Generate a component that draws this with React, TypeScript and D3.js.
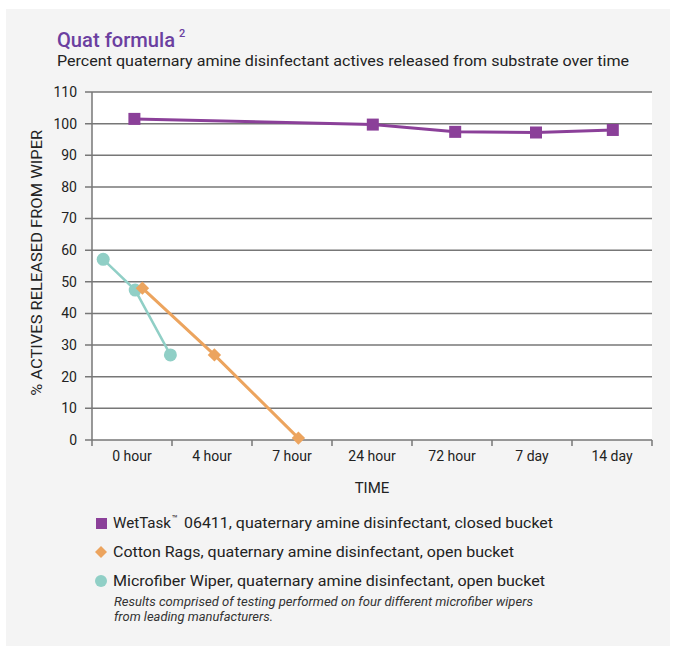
import React from "react";
import * as d3 from "d3";

const categories = ["0 hour", "4 hour", "7 hour", "24 hour", "72 hour", "7 day", "14 day"];
const yTicks = [0, 10, 20, 30, 40, 50, 60, 70, 80, 90, 100, 110];

// x positions are in category units (0 = left edge of "0 hour" slot)
const wetTaskX = [0.53, 3.51, 4.54, 5.55, 6.51];
const wetTaskY = [101.5, 99.7, 97.4, 97.2, 98.0];
const cottonX = [0.63, 1.53, 2.58];
const cottonY = [48.0, 26.9, 0.6];
const microX = [0.14, 0.54, 0.98];
const microY = [57.1, 47.4, 26.9];

const legendLabels = [
  "WetTask",
  "Cotton Rags, quaternary amine disinfectant, open bucket",
  "Microfiber Wiper, quaternary amine disinfectant, open bucket",
];
const legendTail = "06411, quaternary amine disinfectant, closed bucket";

const PURPLE = "#8b4099";
const ORANGE = "#eca45e";
const TEAL = "#90cfc6";
const TITLE = "#6b3fa0";
const GRID = "#777777";
const FONT = "Roboto, 'DejaVu Sans', sans-serif";

export default function App() {
  const W = 674, H = 649;
  const x = d3.scaleLinear().domain([0, 7]).range([92, 652]);
  const y = d3.scaleLinear().domain([0, 110]).range([440, 92]);
  const line = d3.line<[number, number]>().x(d => x(d[0])).y(d => y(d[1]));
  const zip = (a: number[], b: number[]) => a.map((v, i) => [v, b[i]] as [number, number]);
  const wet = zip(wetTaskX, wetTaskY);
  const cot = zip(cottonX, cottonY);
  const mic = zip(microX, microY);
  const diamond = d3.symbol(d3.symbolSquare, 90)();

  return (
    <svg width={W} height={H} style={{ position: "absolute", left: 0, top: 0, fontFamily: FONT }}>
      <rect x={0} y={0} width={W} height={H} fill="#ffffff" />
      <rect x={6} y={9} width={664} height={637} fill="#f4f4f4" />
      {/* title */}
      <text x={57} y={47} fontSize={21} fontWeight={500} fill={TITLE} textLength={118} lengthAdjust="spacingAndGlyphs">Quat formula</text>
      <text x={179} y={37} fontSize={11} fontWeight={500} fill={TITLE}>2</text>
      <text x={57} y={66} fontSize={15} fill="#222" textLength={572} lengthAdjust="spacingAndGlyphs">
        Percent quaternary amine disinfectant actives released from substrate over time
      </text>

      {/* plot area */}
      <rect x={x(0)} y={y(110)} width={x(7) - x(0)} height={y(0) - y(110)} fill="#ffffff" />
      {yTicks.map(t => (
        <g key={t}>
          <line x1={85} x2={x(7)} y1={y(t)} y2={y(t)} stroke={GRID} strokeWidth={1.5} />
          <text x={77} y={y(t)} dy="0.35em" textAnchor="end" fontSize={14} fill="#222">{t}</text>
        </g>
      ))}
      <line x1={x(0)} x2={x(0)} y1={y(110)} y2={y(0) + 6} stroke={GRID} strokeWidth={1.5} />
      {d3.range(1, 8).map(i => (
        <line key={i} x1={x(i)} x2={x(i)} y1={y(0)} y2={y(0) + 6} stroke={GRID} strokeWidth={1.5} />
      ))}
      {categories.map((c, i) => (
        <text key={c} x={x(i + 0.5)} y={461} textAnchor="middle" fontSize={14} fill="#222">{c}</text>
      ))}
      <text x={x(3.5)} y={493} textAnchor="middle" fontSize={15} fill="#222">TIME</text>
      <text transform={`translate(42,${y(56)}) rotate(-90)`} textAnchor="middle" fontSize={15} fill="#222" textLength={266} lengthAdjust="spacingAndGlyphs">
        %   ACTIVES RELEASED FROM WIPER
      </text>

      {/* series */}
      <path d={line(wet) || ""} fill="none" stroke={PURPLE} strokeWidth={3} />
      {wet.map((p, i) => (
        <rect key={i} x={x(p[0]) - 6} y={y(p[1]) - 6} width={12} height={12} fill={PURPLE} />
      ))}
      <path d={line(mic) || ""} fill="none" stroke={TEAL} strokeWidth={2.5} />
      {mic.map((p, i) => (
        <circle key={i} cx={x(p[0])} cy={y(p[1])} r={6.5} fill={TEAL} />
      ))}
      <path d={line(cot) || ""} fill="none" stroke={ORANGE} strokeWidth={3} />
      {cot.map((p, i) => (
        <path key={i} d={diamond || ""} transform={`translate(${x(p[0])},${y(p[1])}) rotate(45)`} fill={ORANGE} />
      ))}

      {/* legend */}
      <rect x={96} y={518} width={11} height={11} fill={PURPLE} />
      <text x={113} y={528} fontSize={15} fill="#222" textLength={58} lengthAdjust="spacingAndGlyphs">{legendLabels[0]}</text>
      <text x={172} y={522} fontSize={9.5} fill="#222">™</text>
      <text x={184} y={528} fontSize={15} fill="#222" textLength={369} lengthAdjust="spacingAndGlyphs">{legendTail}</text>
      <path d={d3.symbol(d3.symbolSquare, 72)() || ""} transform={`translate(101,552) rotate(45)`} fill={ORANGE} />
      <text x={113} y={557} fontSize={15} fill="#222" textLength={401} lengthAdjust="spacingAndGlyphs">{legendLabels[1]}</text>
      <circle cx={101} cy={581} r={6} fill={TEAL} />
      <text x={113} y={586} fontSize={15} fill="#222" textLength={432} lengthAdjust="spacingAndGlyphs">{legendLabels[2]}</text>
      <text x={114} y={606} fontSize={12} fontStyle="italic" fill="#333" textLength={419} lengthAdjust="spacingAndGlyphs">
        Results comprised of testing performed on four different microfiber wipers
      </text>
      <text x={114} y={621} fontSize={12} fontStyle="italic" fill="#333" textLength={159} lengthAdjust="spacingAndGlyphs">from leading manufacturers.</text>
    </svg>
  );
}
